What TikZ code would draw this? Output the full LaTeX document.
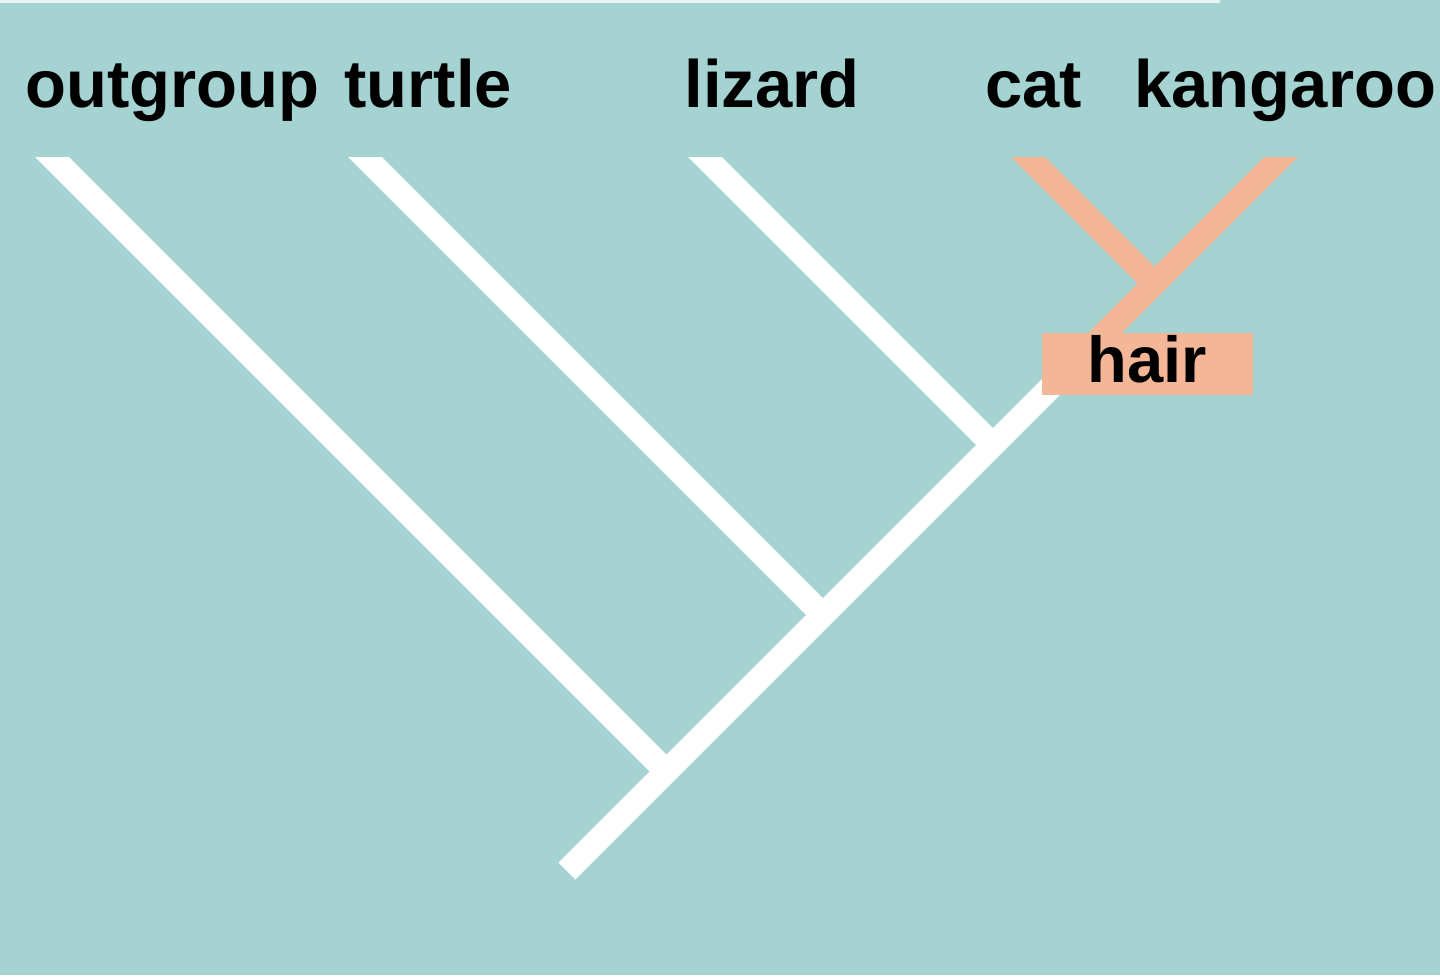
\documentclass[tikz,border=0pt]{standalone}
\usepackage{fontspec}
\setmainfont{Liberation Sans}
\usepackage{tikz}
\definecolor{sea}{HTML}{A4D3D2}
\definecolor{salmon}{HTML}{F3B797}
\tikzstyle{taxon} = [anchor=base west, inner sep=0pt, font=\fontsize{33.5}{40}\selectfont\bfseries]
\tikzstyle{branch} = [white, line width=12pt]
\tikzstyle{derived} = [salmon, line width=12pt]
\tikzstyle{trait} = [rectangle, fill=salmon, minimum width=105.5pt, minimum height=31pt, inner sep=0pt, text height=24pt, text depth=6pt, font=\fontsize{32.5}{40}\selectfont\bfseries]

\begin{document}
\begin{tikzpicture}[x=0.5pt, y=-0.5pt]

	\useasboundingbox (0,0) rectangle (1440,979);
	\fill [sea] (0,0) rectangle (1440,979);
	\fill [white!75!sea] (0,0) rectangle (1220,3);
	\fill [white] (0,975) rectangle (1440,979);

	\node (og) [taxon] at (25,108) {outgroup};
	\node (tu) [taxon] at (344,108) {turtle};
	\node (li) [taxon] at (684,108) {lizard};
	\node (ca) [taxon] at (985,108) {cat};
	\node (ka) [taxon] at (1134,108) {kangaroo};

	\coordinate (root) at (567,871);
	\coordinate (jog) at (666.5,771.5);
	\coordinate (jtu) at (823,615);
	\coordinate (jli) at (993,445);
	\coordinate (jha) at (1074,364);
	\coordinate (jca) at (1154.5,283.5);
	\coordinate (tog) at (35,140);
	\coordinate (ttu) at (348,140);
	\coordinate (tli) at (688,140);
	\coordinate (tca) at (1011,140);
	\coordinate (tka) at (1298,140);

\begin{scope}
	\clip (0,157) rectangle (1440,979);
	\draw [branch] (root) -- (jha);
	\draw [branch] (jog) -- (tog);
	\draw [branch] (jtu) -- (ttu);
	\draw [branch] (jli) -- (tli);
	\draw [derived] (jha) -- (tka);
	\draw [derived] (jca) -- (tca);
\end{scope}

	\node (hair) [trait] at (1147.5,364) {hair\hspace{10pt}};

\end{tikzpicture}
\end{document}
